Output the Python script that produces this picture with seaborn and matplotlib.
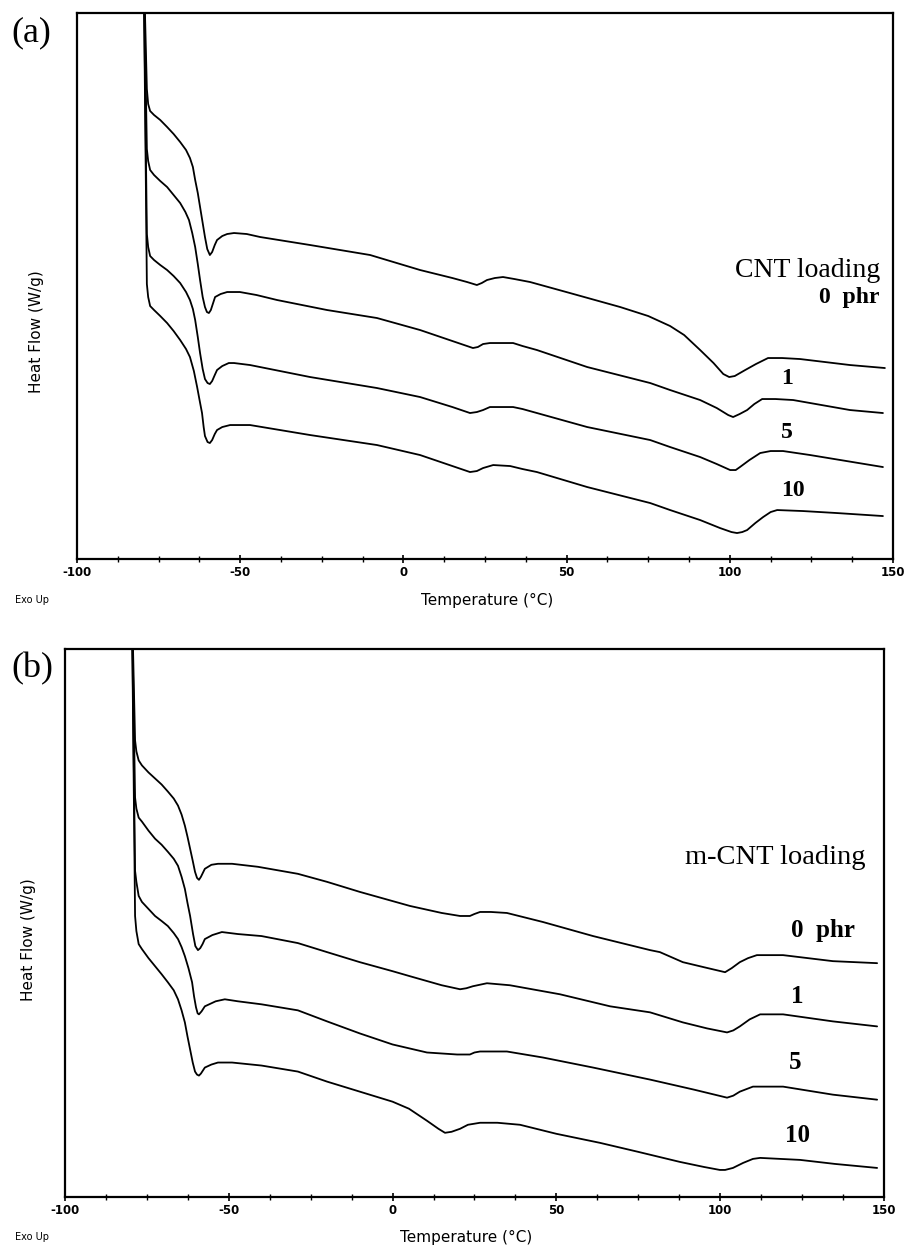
import numpy as np
import pandas as pd
import matplotlib
matplotlib.use("Agg")
import matplotlib.pyplot as plt
import seaborn as sns

# --- data (temperature in C, heat flow in arbitrary offset units) ---
loadings = ["0", "1", "5", "10"]

# panel (a): CNT loading
temp_a_0 = [-79.6, -78.6, -78.2, -77.6, -76.4, -74.5, -72.4, -70.4, -68.4, -66.6, -65.4, -64.5, -63.8, -63.0,
            -62.3, -61.5, -60.8, -60.1, -59.3, -58.6, -57.8, -57.1, -55.5, -54.0, -51.9, -48.0, -43.9,
            -28.6, -10.2, 5.1, 15.0, 19.5, 21.5, 22.5, 24.0, 25.6, 28.0, 30.5, 34.0, 38.8, 51.0, 66.4,
            75.0, 81.7, 86.0, 90.9, 95.0, 98.0, 99.8, 101.5, 104.7, 108.0, 111.7, 116.0, 121.5, 136.8, 147.5]
hf_a_0 = [600, 470, 455, 448, 444, 439, 432, 425, 417, 409, 401, 392, 379, 366,
          352, 336, 322, 310, 304, 307, 314, 319, 323, 325, 326, 325, 322,
          314, 304, 289, 281, 277, 275, 274, 276, 279, 281, 282, 280, 277, 266, 252,
          243, 233, 224, 209, 196, 185, 182, 183, 189, 195, 201, 201, 200, 194, 191]
temp_a_1 = [-79.6, -78.6, -78.2, -77.6, -76.4, -74.5, -72.4, -70.4, -68.4, -66.8, -65.7, -64.7, -63.8, -63.0,
            -62.3, -61.5, -60.8, -60.2, -59.6, -59.0, -58.3, -57.7, -56.0, -54.0, -50.1, -45.0, -38.7,
            -23.4, -8.1, 5.1, 15.0, 19.5, 21.3, 22.8, 24.4, 26.5, 28.7, 33.6, 36.5, 40.9, 56.3, 75.6,
            81.7, 90.9, 96.0, 99.5, 101.0, 103.0, 105.3, 107.5, 109.9, 114.0, 119.4, 136.8, 146.9]
hf_a_1 = [600, 410, 398, 389, 384, 378, 372, 364, 356, 347, 339, 326, 312, 295,
          279, 262, 252, 247, 246, 249, 256, 262, 265, 267, 267, 264, 259,
          249, 241, 229, 218, 213, 211, 212, 215, 216, 216, 216, 213, 209, 192, 176,
          169, 159, 151, 144, 142, 145, 149, 155, 160, 160, 159, 149, 146]
temp_a_5 = [-79.6, -78.6, -78.2, -77.6, -76.4, -74.5, -72.4, -70.4, -68.4, -66.6, -65.4, -64.5, -63.8, -63.0,
            -62.3, -61.5, -60.8, -60.0, -59.3, -58.6, -57.8, -57.1, -55.5, -53.5, -51.9, -47.0,
            -28.6, -8.1, 5.1, 15.0, 20.4, 22.5, 24.4, 26.5, 33.6, 36.5, 40.9, 56.3, 75.6, 81.7, 90.9,
            96.0, 100.1, 101.8, 103.1, 106.0, 109.3, 112.5, 116.3, 124.6, 146.9]
hf_a_5 = [600, 325, 312, 303, 299, 294, 289, 283, 276, 267, 259, 250, 239, 222,
          206, 190, 180, 176, 175, 178, 184, 189, 193, 196, 196, 194,
          182, 171, 162, 152, 146, 147, 149, 152, 152, 150, 146, 132, 119, 112, 102,
          95, 89, 89, 92, 99, 106, 108, 108, 104, 92]
temp_a_10 = [-79.6, -78.6, -78.2, -77.6, -76.4, -74.5, -72.4, -70.4, -68.4, -66.6, -65.4, -64.2, -63.2, -62.4,
             -61.7, -61.2, -60.8, -60.0, -59.3, -58.6, -57.8, -57.1, -55.5, -53.1, -47.0,
             -28.6, -8.1, 5.1, 15.0, 20.4, 22.5, 24.4, 27.5, 32.7, 36.5, 40.9, 56.3, 75.6, 81.7, 90.9,
             97.0, 100.5, 102.2, 103.8, 105.3, 107.8, 110.2, 112.5, 114.5, 122.4, 132.8, 146.9]
hf_a_10 = [600, 275, 262, 253, 249, 243, 236, 228, 219, 210, 202, 188, 172, 158,
           146, 132, 123, 117, 116, 119, 125, 129, 132, 134, 134,
           124, 114, 104, 93, 87, 88, 91, 94, 93, 90, 87, 72, 56, 49, 39,
           31, 27, 26, 27, 29, 36, 42, 47, 49, 48, 46, 43]

# panel (b): m-CNT loading
temp_b_0 = [-79.6, -78.6, -78.2, -77.5, -76.5, -74.5, -72.5, -70.5, -68.6, -66.8, -65.5, -64.4, -63.4, -62.6,
            -61.8, -61.0, -60.3, -59.7, -59.1, -58.5, -57.9, -57.3, -55.3, -53.3, -49.0, -41.1, -28.9,
            -20.0, -10.0, 5.3, 15.0, 20.6, 23.6, 25.0, 26.7, 30.0, 34.9, 45.9, 61.2, 78.6, 81.6, 88.6,
            95.0, 101.5, 103.5, 106.0, 108.5, 111.2, 119.2, 134.4, 147.9]
hf_b_0 = [600, 455, 444, 435, 430, 423, 417, 411, 404, 397, 390, 381, 370, 359,
          347, 335, 324, 318, 316, 319, 323, 327, 331, 332, 332, 329, 322,
          314, 304, 290, 283, 280, 280, 282, 284, 284, 283, 274, 260, 246, 244, 234,
          229, 224, 228, 234, 238, 241, 241, 235, 233]
temp_b_1 = [-79.6, -78.6, -78.2, -77.5, -76.5, -74.5, -72.5, -70.5, -68.6, -66.8, -65.5, -64.4, -63.4, -62.6,
            -61.8, -60.9, -60.2, -59.4, -58.7, -58.0, -57.3, -55.0, -52.1, -47.2, -40.0, -28.9,
            -20.0, -10.0, 0.0, 5.3, 15.0, 20.6, 22.5, 24.5, 28.8, 35.8, 51.1, 66.4, 78.6, 88.6,
            96.0, 102.1, 104.0, 106.0, 109.0, 112.2, 119.2, 134.4, 147.9]
hf_b_1 = [600, 398, 387, 378, 374, 365, 357, 351, 344, 337, 330, 319, 307, 293,
          280, 262, 250, 246, 248, 252, 257, 261, 264, 262, 260, 253,
          244, 234, 225, 220, 211, 207, 208, 210, 213, 211, 202, 190, 184, 174,
          168, 164, 166, 170, 177, 182, 182, 175, 170]
temp_b_5 = [-79.6, -78.6, -78.2, -77.5, -76.5, -74.5, -72.5, -70.5, -68.6, -66.8, -65.5, -64.4, -63.4, -62.3,
            -61.2, -60.6, -60.0, -59.5, -59.1, -58.3, -57.3, -54.0, -51.2, -47.2, -40.0, -28.9,
            -20.0, -10.0, 0.0, 10.5, 19.7, 23.6, 25.0, 26.7, 34.9, 45.9, 61.2, 78.6, 92.0,
            102.1, 104.0, 106.0, 110.0, 119.2, 134.4, 147.9]
hf_b_5 = [600, 325, 314, 300, 294, 287, 280, 275, 270, 263, 257, 249, 240, 228,
          214, 200, 189, 183, 182, 185, 190, 195, 197, 195, 192, 186,
          175, 163, 152, 144, 142, 142, 144, 145, 145, 139, 129, 117, 107,
          99, 101, 105, 110, 110, 102, 97]
temp_b_10 = [-79.6, -78.6, -78.2, -77.5, -76.5, -74.5, -72.5, -70.5, -68.6, -66.8, -65.5, -64.4, -63.4, -62.6,
             -61.8, -61.0, -60.3, -59.7, -59.1, -58.5, -57.3, -55.3, -53.3, -49.0, -40.0, -28.9,
             -20.0, -10.0, 0.0, 5.0, 10.5, 14.0, 16.0, 18.0, 20.6, 23.0, 26.7, 32.0, 38.9, 50.0, 63.3,
             75.0, 87.7, 95.0, 99.9, 101.5, 103.9, 107.0, 110.0, 112.2, 124.4, 135.0, 147.9]
hf_b_10 = [600, 280, 265, 252, 247, 238, 230, 222, 214, 206, 197, 186, 174, 160,
           147, 134, 125, 122, 121, 123, 129, 132, 134, 134, 131, 125,
           115, 105, 95, 88, 76, 68, 64, 65, 68, 72, 74, 74, 72, 63, 54,
           45, 35, 30, 27, 27, 29, 34, 38, 39, 37, 33, 29]

xticks = [-100, -50, 0, 50, 100, 150]
xtick_labels = ["-100", "-50", "0", "50", "100", "150"]


def build(temps, hfs):
    frames = []
    for name, t, h in zip(loadings, temps, hfs):
        frames.append(pd.DataFrame({"Temperature": t, "HeatFlow": h, "loading": name}))
    return pd.concat(frames, ignore_index=True)


df_a = build([temp_a_0, temp_a_1, temp_a_5, temp_a_10], [hf_a_0, hf_a_1, hf_a_5, hf_a_10])
df_b = build([temp_b_0, temp_b_1, temp_b_5, temp_b_10], [hf_b_0, hf_b_1, hf_b_5, hf_b_10])

sns.set_style("white")
plt.rcParams["axes.unicode_minus"] = False
plt.rcParams["text.color"] = "black"
plt.rcParams["xtick.color"] = "black"
plt.rcParams["axes.labelcolor"] = "black"

fig = plt.figure(figsize=(9.06, 12.49), dpi=100)
ax_a = fig.add_axes([0.085, 0.5524, 0.9007, 0.4372])
ax_b = fig.add_axes([0.0717, 0.0416, 0.904, 0.4388])

for ax, df in [(ax_a, df_a), (ax_b, df_b)]:
    sns.lineplot(data=df, x="Temperature", y="HeatFlow", units="loading", estimator=None,
                 sort=False, color="black", linewidth=1.3, ax=ax, legend=False)
    ax.set_xlim(-100, 150)
    ax.set_ylim(0, 546)
    ax.set_xlabel("")
    ax.set_ylabel("")
    ax.set_yticks([])
    ax.set_xticks(xticks)
    ax.set_xticklabels(xtick_labels, fontsize=8.5, family="DejaVu Sans", fontweight="bold", color="black")
    ax.set_xticks(np.arange(-100, 151, 12.5), minor=True)
    ax.tick_params(axis="x", which="major", direction="inout", length=6, width=1.2, pad=2, bottom=True,
                   color="black")
    ax.tick_params(axis="x", which="minor", direction="inout", length=4, width=1.0, bottom=True,
                   color="black")
    for s in ax.spines.values():
        s.set_color("black")
        s.set_linewidth(1.6)

# panel labels and annotations
fig.text(0.013, 1 - 33 / 1249, "(a)", fontsize=26, family="Liberation Serif", va="center")
fig.text(0.013, 1 - 669 / 1249, "(b)", fontsize=26, family="Liberation Serif", va="center")

fig.text(0.040, 1 - 332 / 1249, "Heat Flow (W/g)", rotation=90, fontsize=11, family="DejaVu Sans",
         ha="center", va="center")
fig.text(0.031, 1 - 940 / 1249, "Heat Flow (W/g)", rotation=90, fontsize=11, family="DejaVu Sans",
         ha="center", va="center")
fig.text(487 / 906, 1 - 600 / 1249, "Temperature (\u00b0C)", fontsize=11, family="DejaVu Sans",
         ha="center", va="center")
fig.text(466 / 906, 1 - 1237 / 1249, "Temperature (\u00b0C)", fontsize=11, family="DejaVu Sans",
         ha="center", va="center")
fig.text(0.017, 1 - 600 / 1249, "Exo Up", fontsize=7, family="DejaVu Sans", va="center")
fig.text(0.017, 1 - 1237 / 1249, "Exo Up", fontsize=7, family="DejaVu Sans", va="center")

ax_a.text(0.984, 0.529, "CNT loading", transform=ax_a.transAxes, fontsize=20,
          family="Liberation Serif", ha="right", va="center")
ax_a.text(0.984, 0.479, "0  phr", transform=ax_a.transAxes, fontsize=17, family="Liberation Serif",
          fontweight="bold", ha="right", va="center")
ax_a.text(0.870, 0.3315, "1", transform=ax_a.transAxes, fontsize=17, family="Liberation Serif",
          fontweight="bold", ha="center", va="center")
ax_a.text(0.870, 0.2326, "5", transform=ax_a.transAxes, fontsize=17, family="Liberation Serif",
          fontweight="bold", ha="center", va="center")
ax_a.text(0.877, 0.126, "10", transform=ax_a.transAxes, fontsize=17, family="Liberation Serif",
          fontweight="bold", ha="center", va="center")

ax_b.text(0.977, 0.620, "m-CNT loading", transform=ax_b.transAxes, fontsize=20.5,
          family="Liberation Serif", ha="right", va="center")
ax_b.text(0.9646, 0.487, "0  phr", transform=ax_b.transAxes, fontsize=18, family="Liberation Serif",
          fontweight="bold", ha="right", va="center")
ax_b.text(0.894, 0.365, "1", transform=ax_b.transAxes, fontsize=18, family="Liberation Serif",
          fontweight="bold", ha="center", va="center")
ax_b.text(0.891, 0.246, "5", transform=ax_b.transAxes, fontsize=18, family="Liberation Serif",
          fontweight="bold", ha="center", va="center")
ax_b.text(0.894, 0.113, "10", transform=ax_b.transAxes, fontsize=18, family="Liberation Serif",
          fontweight="bold", ha="center", va="center")

fig.savefig("out.png", dpi=100)
